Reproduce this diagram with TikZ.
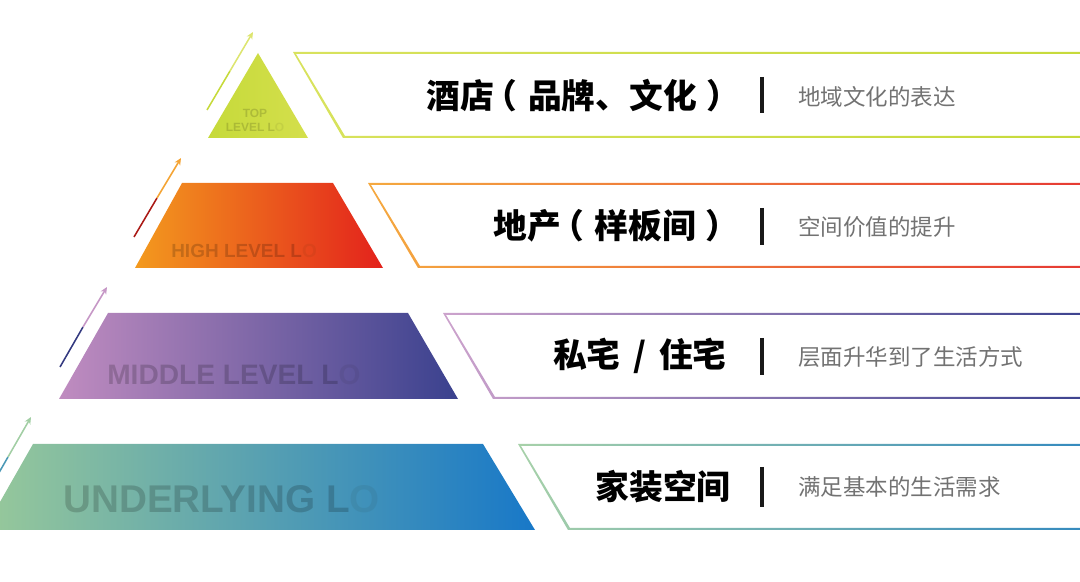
\documentclass[tikz,border=0pt]{standalone}
\usepackage{fontspec}
\setmainfont{Liberation Sans}
\newfontfamily\cjk{Noto Sans CJK SC}
\usetikzlibrary{arrows.meta}

\definecolor{topA}{HTML}{C6DA3A}
\definecolor{topB}{HTML}{D4DF4C}
\definecolor{highA}{HTML}{F39A1E}
\definecolor{highB}{HTML}{E3221C}
\definecolor{midA}{HTML}{C08CC0}
\definecolor{midB}{HTML}{3A418E}
\definecolor{lowA}{HTML}{98C99A}
\definecolor{lowB}{HTML}{1878C8}
\definecolor{descgray}{HTML}{727272}

\newcommand\lpar{\kern-0.32em（\kern0.32em}
\newcommand\rpar{\kern0.27em）\kern-0.27em}

\tikzset{
  title/.style={font=\cjk\bfseries\fontsize{24}{28}\selectfont, anchor=east, inner sep=0pt},
  desc/.style={font=\cjk\fontsize{16}{19}\selectfont, text=descgray, anchor=west, inner sep=0pt},
  sepbar/.style={line width=2.8pt, black!90},
  wm/.style={font=\bfseries, text=black, text opacity=0.18, anchor=base west, inner sep=0pt},
  rise/.style={line width=1.1pt, -{Stealth[length=5pt,width=4.5pt]}},
  riselow/.style={line width=1.1pt}
}

\begin{document}
\begin{tikzpicture}[x=0.025cm, y=-0.025cm]
\useasboundingbox (0,0) rectangle (1080,582);
\clip (0,0) rectangle (1080,582);

\shade[left color=topA, right color=topB] (208,138) -- (258,53) -- (308,138) -- cycle;
\shade[left color=highA, right color=highB] (135,268) -- (182,183) -- (333,183) -- (383,268) -- cycle;
\shade[left color=midA, right color=midB] (59,399) -- (108,313) -- (408,313) -- (458,399) -- cycle;
\shade[left color=lowA, right color=lowB] (-16,530) -- (33,444) -- (483,444) -- (535,530) -- cycle;

\shade[left color=topB!90!white, right color=topA, even odd rule]
  (293,52) -- (1100,52) -- (1100,138) -- (343,138) -- cycle
  (296,54) -- (1100,54) -- (1100,136) -- (345,136) -- cycle;
\shade[left color=highA!85!white, right color=highB!90!white, even odd rule]
  (368,183) -- (1100,183) -- (1100,268) -- (418,268) -- cycle
  (371,185) -- (1100,185) -- (1100,266) -- (420,266) -- cycle;
\shade[left color=midA!80!white, right color=midB, even odd rule]
  (443,313) -- (1100,313) -- (1100,399) -- (493,399) -- cycle
  (446,315) -- (1100,315) -- (1100,397) -- (495,397) -- cycle;
\shade[left color=lowA!85!white, right color=lowB!80!lowA, even odd rule]
  (518,444) -- (1100,444) -- (1100,530) -- (568,530) -- cycle
  (521,446) -- (1100,446) -- (1100,528) -- (570,528) -- cycle;

\coordinate (r1s) at (207,110);
\coordinate (r1m) at (230,71);
\coordinate (r1e) at (253,32);
\coordinate (r2s) at (134,237);
\coordinate (r2m) at (157,198);
\coordinate (r2e) at (181,158);
\coordinate (r3s) at (60,367);
\coordinate (r3m) at (83,327);
\coordinate (r3e) at (107,287);
\coordinate (r4s) at (-15,497);
\coordinate (r4m) at (8,457);
\coordinate (r4e) at (31,417);

\draw[riselow, topA] (r1s) -- (r1m);
\draw[rise, topB!80!white] (r1m) -- (r1e);
\draw[riselow, highB!75!black] (r2s) -- (r2m);
\draw[rise, highA!90!white] (r2m) -- (r2e);
\draw[riselow, midB!90!black] (r3s) -- (r3m);
\draw[rise, midA!90!white] (r3m) -- (r3e);
\draw[riselow, lowB!60!lowA] (r4s) -- (r4m);
\draw[rise, lowA!90!white] (r4m) -- (r4e);

\node[wm, anchor=center, align=center, text opacity=0.15, font=\bfseries\fontsize{8.5}{10}\selectfont] (wtop) at (255,120)
  {TOP\\LEVEL L{\color{black!40!topB}O}};
\node[wm, font=\bfseries\fontsize{13.5}{16}\selectfont] (whigh) at (171,258)
  {HIGH LEVEL L{\color{black!45!highB!70!highA}O}};
\node[wm, font=\bfseries\fontsize{20}{24}\selectfont] (wmid) at (107,385)
  {MIDDLE LEVEL L{\color{black!45!midB!77!midA}O}};
\node[wm, font=\bfseries\fontsize{27.5}{32}\selectfont] (wlow) at (63,513)
  {UNDERLYING L{\color{black!45!lowB!72!lowA}O}};

\node[title] (t1) at (731,96) {酒店\lpar 品牌、文化\rpar};
\node[title] (t2) at (730,226) {地产\lpar 样板间\rpar};
\node[title] (t3) at (727,356) {私宅\hspace{0.38em}/\hspace{0.38em}住宅};
\node[title] (t4) at (731,487) {家装空间};

\draw[sepbar] (762,77) -- (762,113);
\draw[sepbar] (762,208) -- (762,245);
\draw[sepbar] (762,338) -- (762,375);
\draw[sepbar] (762,467) -- (762,507);

\node[desc] (d1) at (798,97) {地域文化的表达};
\node[desc] (d2) at (798,227) {空间价值的提升};
\node[desc] (d3) at (798,357) {层面升华到了生活方式};
\node[desc] (d4) at (798,487) {满足基本的生活需求};
\end{tikzpicture}
\end{document}
